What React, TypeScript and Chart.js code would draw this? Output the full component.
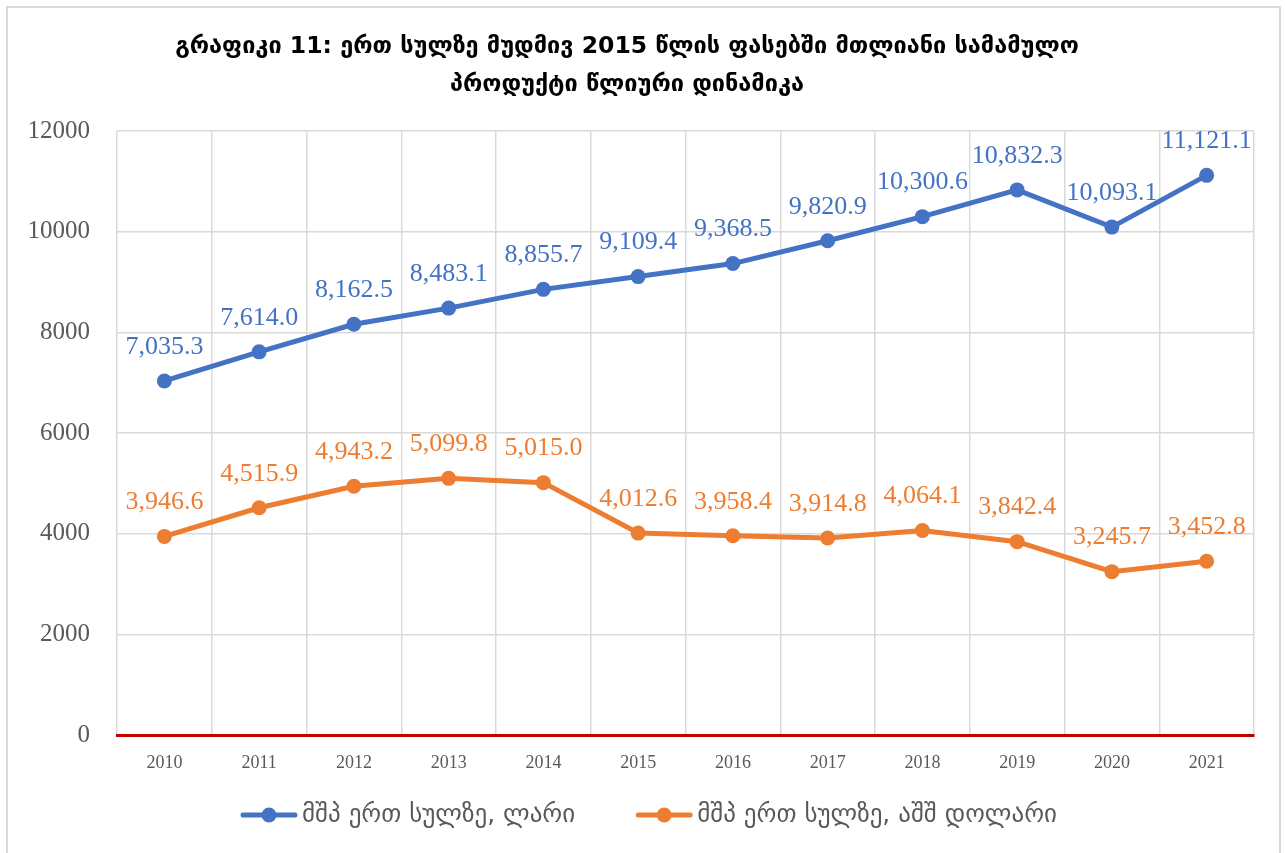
import React, { useEffect, useRef } from "react";
import { Chart, registerables } from "chart.js";

Chart.register(...registerables);

const categories = ["2010", "2011", "2012", "2013", "2014", "2015", "2016", "2017", "2018", "2019", "2020", "2021"];
const gelValues = [7035.3, 7614.0, 8162.5, 8483.1, 8855.7, 9109.4, 9368.5, 9820.9, 10300.6, 10832.3, 10093.1, 11121.1];
const usdValues = [3946.6, 4515.9, 4943.2, 5099.8, 5015.0, 4012.6, 3958.4, 3914.8, 4064.1, 3842.4, 3245.7, 3452.8];
const seriesNames = ["მშპ ერთ სულზე, ლარი", "მშპ ერთ სულზე, აშშ დოლარი"];
const titleLines = [
  "გრაფიკი 11: ერთ სულზე მუდმივ 2015 წლის ფასებში მთლიანი სამამულო",
  "პროდუქტი წლიური დინამიკა",
];
const yTicks = [0, 2000, 4000, 6000, 8000, 10000, 12000];

const BLUE = "#4472C4";
const ORANGE = "#ED7D31";

const labelPlugin = {
  id: "valueLabels",
  afterDatasetsDraw(chart: any) {
    const ctx = chart.ctx;
    ctx.save();
    ctx.font = "26px 'Liberation Serif', serif";
    ctx.textAlign = "center";
    ctx.textBaseline = "middle";
    chart.data.datasets.forEach((ds: any, di: number) => {
      const meta = chart.getDatasetMeta(di);
      ctx.fillStyle = ds.borderColor;
      meta.data.forEach((el: any, i: number) => {
        const v = ds.data[i] as number;
        const txt = v.toLocaleString("en-US", { minimumFractionDigits: 1, maximumFractionDigits: 1 });
        ctx.fillText(txt, el.x, el.y - 34);
      });
    });
    ctx.restore();
  },
};

const legendPlugin = {
  id: "lineLegend",
  afterDraw(chart: any) {
    const ctx = chart.ctx;
    const sym = 56;
    const textGap = 5;
    const itemGap = 61;
    const y = 815;
    ctx.save();
    ctx.font = "25px 'DejaVu Sans', sans-serif";
    ctx.textBaseline = "middle";
    ctx.textAlign = "left";
    const items = chart.data.datasets.map((ds: any) => ({
      label: ds.label as string,
      color: ds.borderColor as string,
      w: ctx.measureText(ds.label).width,
    }));
    const total = items.reduce((a: number, it: any) => a + sym + textGap + it.w, 0) + itemGap * (items.length - 1);
    let x = 649 - total / 2;
    items.forEach((it: any) => {
      ctx.strokeStyle = it.color;
      ctx.lineWidth = 5;
      ctx.lineCap = "round";
      ctx.beginPath();
      ctx.moveTo(x + 2, y);
      ctx.lineTo(x + sym - 2, y);
      ctx.stroke();
      ctx.fillStyle = it.color;
      ctx.beginPath();
      ctx.arc(x + sym / 2, y, 7.5, 0, Math.PI * 2);
      ctx.fill();
      ctx.fillStyle = "#595959";
      ctx.fillText(it.label, x + sym + textGap, y);
      x += sym + textGap + it.w + itemGap;
    });
    ctx.restore();
  },
};

export default function App() {
  const ref = useRef<HTMLCanvasElement | null>(null);
  useEffect(() => {
    if (!ref.current) return;
    const chart = new Chart(ref.current, {
      type: "line",
      data: {
        labels: categories,
        datasets: [
          {
            label: seriesNames[0],
            data: gelValues,
            borderColor: BLUE,
            backgroundColor: BLUE,
            borderWidth: 5,
            pointRadius: 7.5,
            pointBackgroundColor: BLUE,
            pointBorderColor: BLUE,
            pointBorderWidth: 0,
            tension: 0,
          },
          {
            label: seriesNames[1],
            data: usdValues,
            borderColor: ORANGE,
            backgroundColor: ORANGE,
            borderWidth: 5,
            pointRadius: 7.5,
            pointBackgroundColor: ORANGE,
            pointBorderColor: ORANGE,
            pointBorderWidth: 0,
            tension: 0,
          },
        ],
      },
      options: {
        responsive: false,
        animation: false,
        devicePixelRatio: 1,
        layout: { padding: { left: 0, right: 31, top: 0, bottom: 73 } },
        plugins: {
          title: {
            display: true,
            text: titleLines,
            color: "#000000",
            font: { family: "'DejaVu Sans', sans-serif", size: 23.5, weight: "bold", lineHeight: 1.62 },
            padding: { top: 28, bottom: 27 },
          },
          legend: { display: false },
          tooltip: { enabled: false },
        },
        scales: {
          x: {
            offset: true,
            grid: { display: true, offset: true, color: "#d9d9d9", lineWidth: 1.5, drawTicks: false },
            border: { display: true, color: "#C00000", width: 3 },
            ticks: {
              color: "#595959",
              font: { family: "'Liberation Serif', serif", size: 18 },
              padding: 17,
            },
            afterFit: (s: any) => {
              s.height = 45;
            },
          },
          y: {
            min: 0,
            max: 12000,
            afterBuildTicks: (s: any) => {
              s.ticks = yTicks.map((v) => ({ value: v }));
            },
            grid: {
              color: (c: any) => (c.tick && c.tick.value === 0 ? "rgba(0,0,0,0)" : "#d9d9d9"),
              lineWidth: 1.5,
              drawTicks: false,
            },
            border: { display: false },
            ticks: {
              color: "#595959",
              font: { family: "'Liberation Serif', serif", size: 25 },
              padding: 27,
              callback: (v: any) => String(v),
            },
            afterFit: (s: any) => {
              s.width = 117;
            },
          },
        },
      },
      plugins: [labelPlugin, legendPlugin],
    } as any);
    return () => chart.destroy();
  }, []);

  return (
    <div style={{ position: "absolute", left: 0, top: 0, width: 1285, height: 853, overflow: "hidden", background: "#fff" }}>
      <canvas ref={ref} width={1285} height={853} style={{ position: "absolute", left: 0, top: 0 }} />
      <div
        style={{
          position: "absolute",
          left: 6,
          top: 6,
          width: 1275,
          height: 900,
          border: "2px solid #d9d9d9",
          boxSizing: "border-box",
          pointerEvents: "none",
        }}
      />
    </div>
  );
}
